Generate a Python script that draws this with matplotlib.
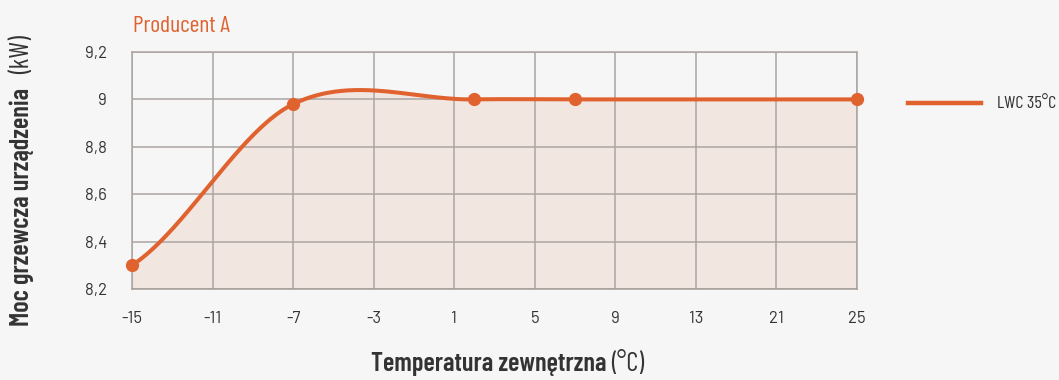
import numpy as np
import matplotlib
matplotlib.use("Agg")
from matplotlib import pyplot as plt
from matplotlib import font_manager

# tick temperatures shown on the x axis (evenly spaced on the chart)
tick_temps = [-15, -11, -7, -3, 1, 5, 9, 13, 21, 25]
tick_labels = ["-15", "-11", "-7", "-3", "1", "5", "9", "13", "21", "25"]

# measured heating power
temps = [-15, -7, 2, 7, 25]
power = [8.3, 8.98, 9.0, 9.0, 9.0]

y_ticks = [8.2, 8.4, 8.6, 8.8, 9.0, 9.2]
y_tick_labels = ["8,2", "8,4", "8,6", "8,8", "9", "9,2"]

series_name = "LWC 35\u00b0C"
title = "Producent A"

orange = "#e0622f"
fill_col = "#f2e6e1"
grid_col = "#aba5a2"
bg = "#f6f6f6"
text_col = "#333333"

names = {f.name for f in font_manager.fontManager.ttflist}
def pick(*cands):
    return [c for c in cands if c in names] + ["DejaVu Sans"]
narrow = pick("Barlow Condensed", "Archivo Narrow", "Asap Condensed")
plain = pick("Barlow", "Barlow Semi Condensed", "Roboto")

# temperatures -> position along the axis (piecewise linear between ticks)
tick_pos = np.arange(len(tick_temps))
xp = np.interp(temps, tick_temps, tick_pos)
yp = np.array(power, dtype=float)

# cubic hermite spline through the points
n = len(xp)
m = np.zeros(n)
for i in range(1, n - 1):
    m[i] = (yp[i + 1] - yp[i - 1]) / (xp[i + 1] - xp[i - 1])
m[0] = 0.65 * (yp[1] - yp[0]) / (xp[1] - xp[0])
m[-1] = 0.65 * (yp[-1] - yp[-2]) / (xp[-1] - xp[-2])

xs, ys = [], []
for i in range(n - 1):
    h = xp[i + 1] - xp[i]
    t = np.linspace(0, 1, 80)
    h00 = 2 * t**3 - 3 * t**2 + 1
    h10 = t**3 - 2 * t**2 + t
    h01 = -2 * t**3 + 3 * t**2
    h11 = t**3 - t**2
    xs.append(xp[i] + t * h)
    ys.append(h00 * yp[i] + h10 * h * m[i] + h01 * yp[i + 1] + h11 * h * m[i + 1])
xs = np.concatenate(xs)
ys = np.concatenate(ys)

fig = plt.figure(figsize=(10.59, 3.80), dpi=100, facecolor=bg)
ax = fig.add_axes([132 / 1059, 1 - 289 / 380, (857 - 132) / 1059, (289 - 52) / 380])
ax.set_facecolor(bg)

ax.fill_between(xs, ys, 8.2, color=fill_col, lw=0, zorder=1)
ax.plot(xs, ys, color=orange, lw=2.9, zorder=3, solid_capstyle="round")
ax.plot(xp, yp, "o", color=orange, ms=8.5, zorder=4, clip_on=False)

ax.set_xlim(tick_pos[0], tick_pos[-1])
ax.set_ylim(8.2, 9.2)
ax.set_xticks(tick_pos)
ax.set_xticklabels(tick_labels, family=plain, fontsize=12, color=text_col)
ax.set_yticks(y_ticks)
ax.set_yticklabels(y_tick_labels, family=plain, fontsize=12, color=text_col)
ax.tick_params(length=0, pad=16)
ax.tick_params(axis="y", pad=18)
ax.grid(True, color=grid_col, lw=1.1, zorder=2)
for s in ax.spines.values():
    s.set_color(grid_col)
    s.set_linewidth(1.1)
ax.spines["bottom"].set_color("#a59f9c")
for gl in ax.get_xgridlines() + ax.get_ygridlines():
    gl.set_zorder(2)

fig.text(133 / 1059, 1 - 26 / 380, title, color=orange, family=narrow,
         fontsize=17, va="center", ha="left")

# axis titles: bold words, regular unit in brackets
fig.text(606 / 1059, 1 - 364 / 380, "Temperatura zewn\u0119trzna", family=narrow,
         fontweight="semibold", fontsize=19, color=text_col, ha="right", va="center")
fig.text(611 / 1059, 1 - 364 / 380, "(\u00b0C)", family=narrow,
         fontsize=19, color=text_col, ha="left", va="center")
fig.text(22 / 1059, 1 - 326 / 380, "Moc grzewcza urz\u0105dzenia", family=narrow,
         fontweight="semibold", fontsize=19, color=text_col, ha="center", va="bottom",
         rotation=90)
fig.text(22 / 1059, 1 - 74 / 380, "(kW)", family=narrow,
         fontsize=19, color=text_col, ha="center", va="bottom", rotation=90)

# legend
fig.lines.append(plt.Line2D([908 / 1059, 981 / 1059], [1 - 103 / 380, 1 - 103 / 380],
                            transform=fig.transFigure, color=orange, lw=3.2))
fig.text(997 / 1059, 1 - 104 / 380, series_name, family=narrow, fontsize=13,
         color=text_col, ha="left", va="center")

fig.savefig("out.png", dpi=100, facecolor=bg)
